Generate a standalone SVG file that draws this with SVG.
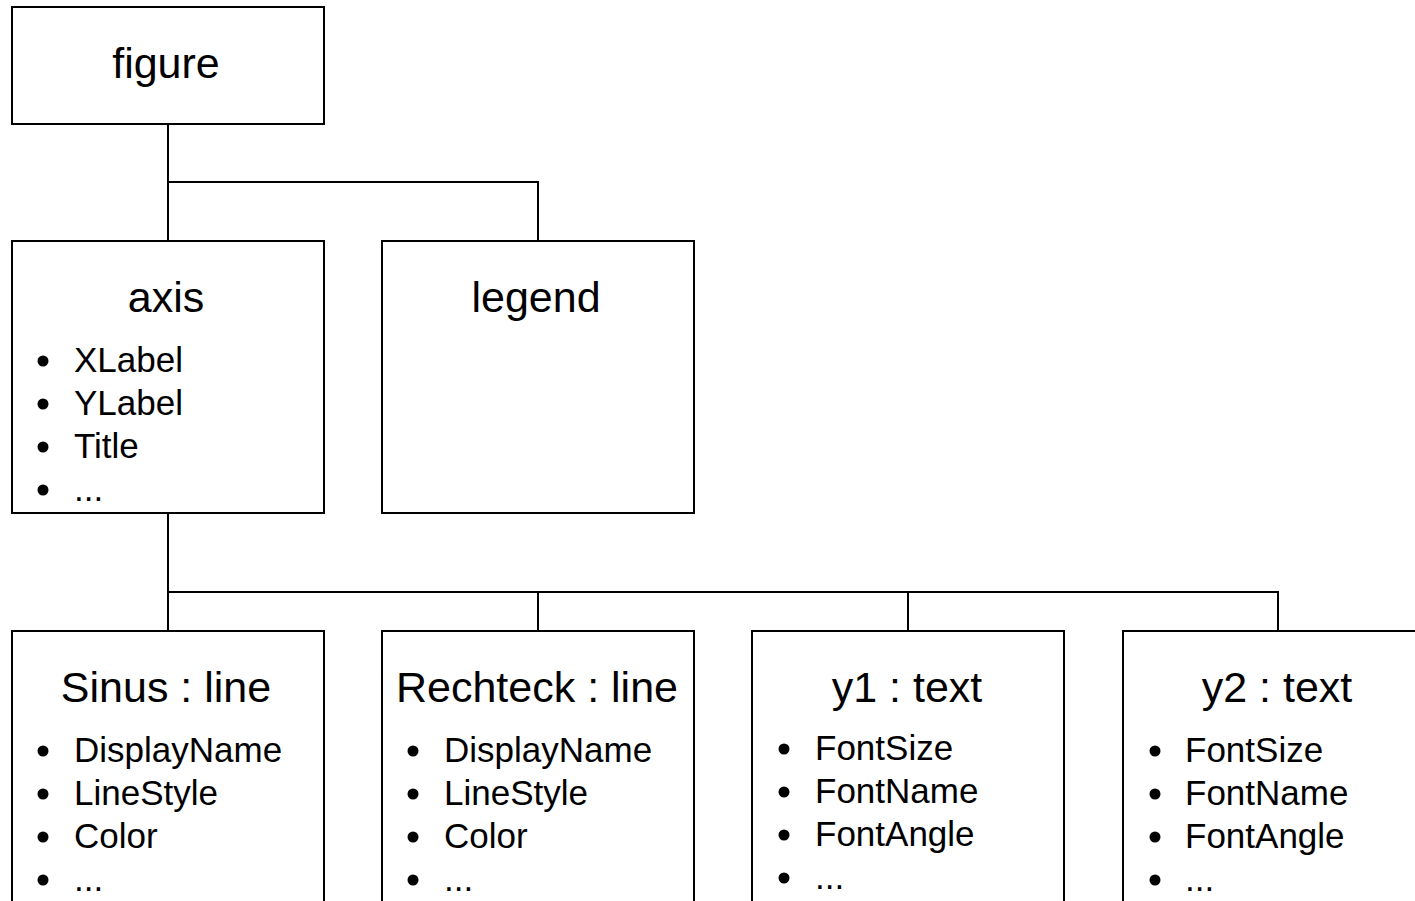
<svg xmlns="http://www.w3.org/2000/svg" width="1415" height="901" viewBox="0 0 1415 901">
<style>
.box{fill:#fff;stroke:#000;stroke-width:2}
.con{fill:none;stroke:#000;stroke-width:2}
.t{font-family:"Liberation Sans",Arial,Helvetica,sans-serif;fill:#000}
.title{font-size:43px;text-anchor:middle}
.item{font-size:35px}
.b{fill:#000}
</style>
<rect width="1415" height="901" fill="#fff"/>
<g id="connectors">
<path class="con" d="M168,124 V241 M168,182 H538 V241"/>
<path class="con" d="M168,513 V631 M168,592 H1278 V631 M538,592 V631 M908,592 V631"/>
</g>
<g id="figure">
<rect class="box" x="12" y="7" width="312" height="117"/>
<text class="t title" x="166" y="78">figure</text>
</g>
<g id="axis">
<rect class="box" x="12" y="241" width="312" height="272"/>
<text class="t title" x="166" y="312">axis</text>
<circle class="b" cx="43" cy="361" r="5.5"/><text class="t item" x="74" y="372">XLabel</text>
<circle class="b" cx="43" cy="404" r="5.5"/><text class="t item" x="74" y="415">YLabel</text>
<circle class="b" cx="43" cy="447" r="5.5"/><text class="t item" x="74" y="458">Title</text>
<circle class="b" cx="43" cy="490" r="5.5"/><text class="t item" x="74" y="501">...</text>
</g>
<g id="legend">
<rect class="box" x="382" y="241" width="312" height="272"/>
<text class="t title" x="536" y="312">legend</text>
</g>
<g id="sinus">
<rect class="box" x="12" y="631" width="312" height="290"/>
<text class="t title" x="166" y="702">Sinus : line</text>
<circle class="b" cx="43" cy="751" r="5.5"/><text class="t item" x="74" y="762">DisplayName</text>
<circle class="b" cx="43" cy="794" r="5.5"/><text class="t item" x="74" y="805">LineStyle</text>
<circle class="b" cx="43" cy="837" r="5.5"/><text class="t item" x="74" y="848">Color</text>
<circle class="b" cx="43" cy="880" r="5.5"/><text class="t item" x="74" y="891">...</text>
</g>
<g id="rechteck">
<rect class="box" x="382" y="631" width="312" height="290"/>
<text class="t title" x="537" y="702">Rechteck : line</text>
<circle class="b" cx="413" cy="751" r="5.5"/><text class="t item" x="444" y="762">DisplayName</text>
<circle class="b" cx="413" cy="794" r="5.5"/><text class="t item" x="444" y="805">LineStyle</text>
<circle class="b" cx="413" cy="837" r="5.5"/><text class="t item" x="444" y="848">Color</text>
<circle class="b" cx="413" cy="880" r="5.5"/><text class="t item" x="444" y="891">...</text>
</g>
<g id="y1">
<rect class="box" x="752" y="631" width="312" height="290"/>
<text class="t title" x="907" y="702">y1 : text</text>
<circle class="b" cx="784" cy="749" r="5.5"/><text class="t item" x="815" y="760">FontSize</text>
<circle class="b" cx="784" cy="792" r="5.5"/><text class="t item" x="815" y="803">FontName</text>
<circle class="b" cx="784" cy="835" r="5.5"/><text class="t item" x="815" y="846">FontAngle</text>
<circle class="b" cx="784" cy="878" r="5.5"/><text class="t item" x="815" y="889">...</text>
</g>
<g id="y2">
<rect class="box" x="1123" y="631" width="312" height="290"/>
<text class="t title" x="1277" y="702">y2 : text</text>
<circle class="b" cx="1155" cy="751" r="5.5"/><text class="t item" x="1185" y="762">FontSize</text>
<circle class="b" cx="1155" cy="794" r="5.5"/><text class="t item" x="1185" y="805">FontName</text>
<circle class="b" cx="1155" cy="837" r="5.5"/><text class="t item" x="1185" y="848">FontAngle</text>
<circle class="b" cx="1155" cy="880" r="5.5"/><text class="t item" x="1185" y="891">...</text>
</g>
</svg>
